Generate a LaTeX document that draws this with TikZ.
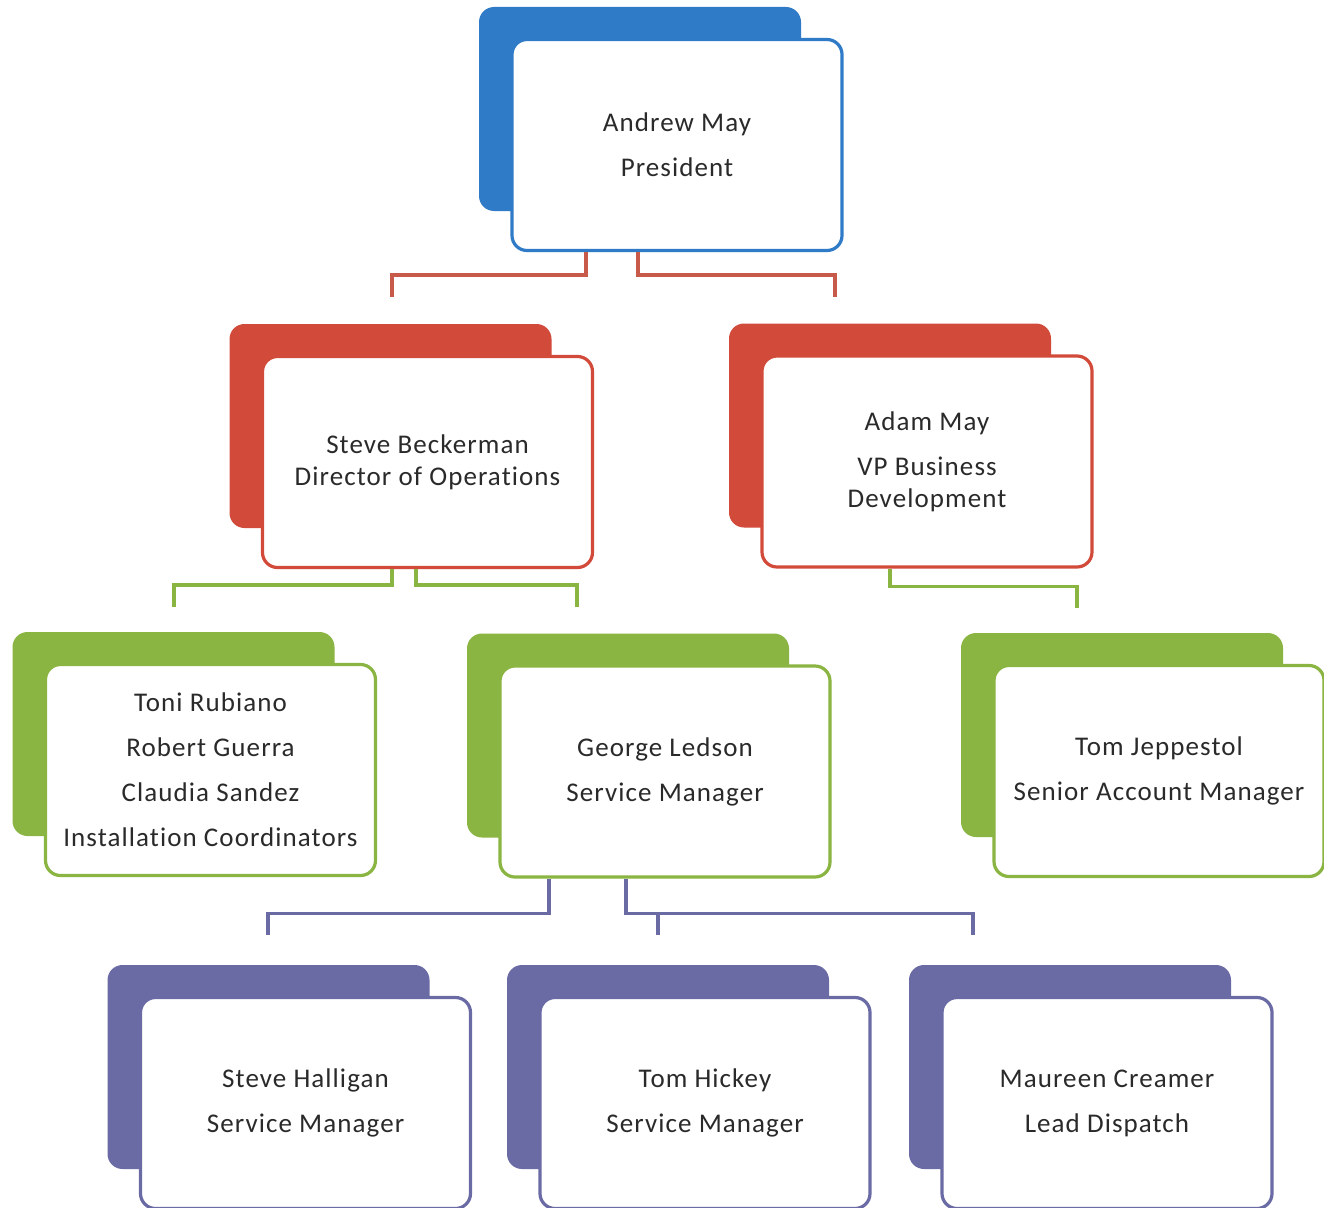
\documentclass[tikz,border=0pt]{standalone}
\usepackage{fontspec}
\setmainfont{Carlito}[LetterSpace=4,Ligatures=NoCommon]
\usetikzlibrary{calc}
\definecolor{cblue}{HTML}{2F7BC8}
\definecolor{cred}{HTML}{D24A3A}
\definecolor{cgreen}{HTML}{8BB542}
\definecolor{cpurple}{HTML}{6A6AA5}
\definecolor{cline}{HTML}{C85A4A}
\definecolor{ctext}{HTML}{2A2A2A}
\tikzset{
  backcard/.style={fill=#1, rounded corners=15pt},
  card/.style={draw=#1, fill=white, line width=3.2pt, rounded corners=15pt,
    minimum width=330pt, minimum height=211pt, inner sep=0pt, align=center,
    text=ctext, font=\fontsize{27}{32}\selectfont},
  conn/.style={draw=#1, line width=3.5pt}
}
\newcommand{\orgunit}[5]{%
  \path[backcard=#4] (#2-166-32,#3-106-32) rectangle (#2+166-42,#3+106-40);
  \node[card=#4] (#1) at (#2,#3) {#5};
}
\begin{document}
\begin{tikzpicture}[x=1pt,y=-1pt]
\useasboundingbox[fill=white] (0,0) rectangle (1324,1207);

\orgunit{pres}{677}{145}{cblue}{Andrew May\\[13pt]President}
\orgunit{sb}{427.5}{462}{cred}{Steve Beckerman\\Director of Operations}
\orgunit{am}{927}{461.5}{cred}{Adam May\\[13pt]VP Business\\Development}
\orgunit{tr}{210.5}{770}{cgreen}{Toni Rubiano\\[13pt]Robert Guerra\\[13pt]Claudia Sandez\\[13pt]Installation Coordinators}
\orgunit{gl}{665}{771.5}{cgreen}{George Ledson\\[13pt]Service Manager}
\orgunit{tj}{1159}{771}{cgreen}{Tom Jeppestol\\[13pt]Senior Account Manager}
\orgunit{sh}{305.5}{1103}{cpurple}{Steve Halligan\\[13pt]Service Manager}
\orgunit{th}{705}{1103}{cpurple}{Tom Hickey\\[13pt]Service Manager}
\orgunit{mc}{1107}{1103}{cpurple}{Maureen Creamer\\[13pt]Lead Dispatch}

% free ends of connectors
\coordinate (r1) at (392,297);
\coordinate (r2) at (835,297);
\coordinate (g1) at (174,607);
\coordinate (g2) at (577,607);
\coordinate (g3) at (1077,608);
\coordinate (p1) at (268,935);
\coordinate (p2) at (973,935);
\coordinate (p3) at (658,935);

\draw[conn=cline] ($(pres.south)+(-91,0)$) -- ++(0,23) -| (r1);
\draw[conn=cline] ($(pres.south)+(-39,0)$) -- ++(0,23) -| (r2);
\draw[conn=cgreen] ($(sb.south)+(-35.5,0)$) -- ++(0,16) -| (g1);
\draw[conn=cgreen] ($(sb.south)+(-11.5,0)$) -- ++(0,16) -| (g2);
\draw[conn=cgreen] ($(am.south)+(-37,0)$) -- ++(0,18) -| (g3);
\draw[conn=cpurple] ($(gl.south)+(-116,0)$) -- ++(0,35) -| (p1);
\draw[conn=cpurple] ($(gl.south)+(-39,0)$) -- ++(0,35) -| (p2);
\draw[conn=cpurple] (p3) -- ++(0,-23);
\end{tikzpicture}
\end{document}
